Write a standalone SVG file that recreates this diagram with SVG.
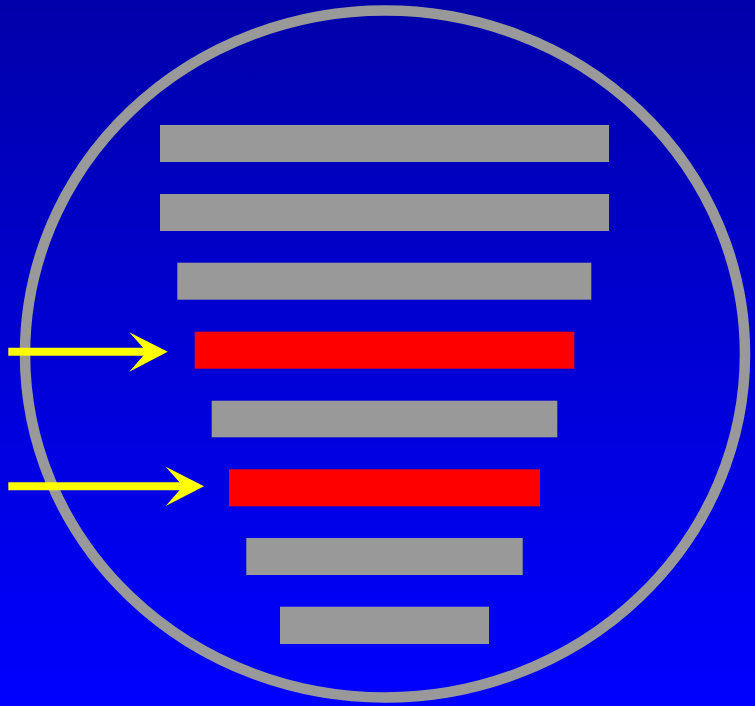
<svg xmlns="http://www.w3.org/2000/svg" width="755" height="706" viewBox="0 0 755 706">
  <defs>
    <linearGradient id="bg" x1="0" y1="0" x2="0" y2="1">
      <stop offset="0" stop-color="#0000AA"/>
      <stop offset="1" stop-color="#0000FF"/>
    </linearGradient>
    <style>
      .bar { fill: #999999; }
      .hot { fill: #FF0000; }
      .arrow-shaft { stroke: #FFFF00; stroke-width: 8; fill: none; }
      .arrow-head { fill: #FFFF00; }
      .ring { fill: none; stroke: #999999; stroke-width: 10.5; }
    </style>
  </defs>
  <rect x="0" y="0" width="755" height="706" fill="url(#bg)"/>
  <ellipse class="ring" cx="385" cy="354" rx="360" ry="343.5"/>
  <g id="bar1"><rect class="bar" x="160" y="125" width="449" height="37"/></g>
  <g id="bar2"><rect class="bar" x="160" y="194" width="449" height="37"/></g>
  <g id="bar3"><rect class="bar" x="177.3" y="262.7" width="414" height="37"/></g>
  <g id="bar4"><rect class="hot" x="194.7" y="331.7" width="379.6" height="37"/></g>
  <g id="bar5"><rect class="bar" x="211.7" y="400.7" width="345.6" height="36.6"/></g>
  <g id="bar6"><rect class="hot" x="229" y="469.3" width="311" height="37"/></g>
  <g id="bar7"><rect class="bar" x="246.3" y="538" width="276.4" height="37"/></g>
  <g id="bar8"><rect class="bar" x="280" y="606.7" width="209" height="37.3"/></g>
  <g id="connectors">
    <g id="arrow1">
      <line class="arrow-shaft" x1="8.3" y1="351.7" x2="150" y2="351.7"/>
      <polygon class="arrow-head" points="167.7,351.7 129.3,332.3 146.7,351.7 129.3,371.7"/>
    </g>
    <g id="arrow2">
      <line class="arrow-shaft" x1="8.3" y1="486.2" x2="186" y2="486.2"/>
      <polygon class="arrow-head" points="204,486.2 165.7,466.7 183,486.2 165.7,506"/>
    </g>
  </g>
</svg>
